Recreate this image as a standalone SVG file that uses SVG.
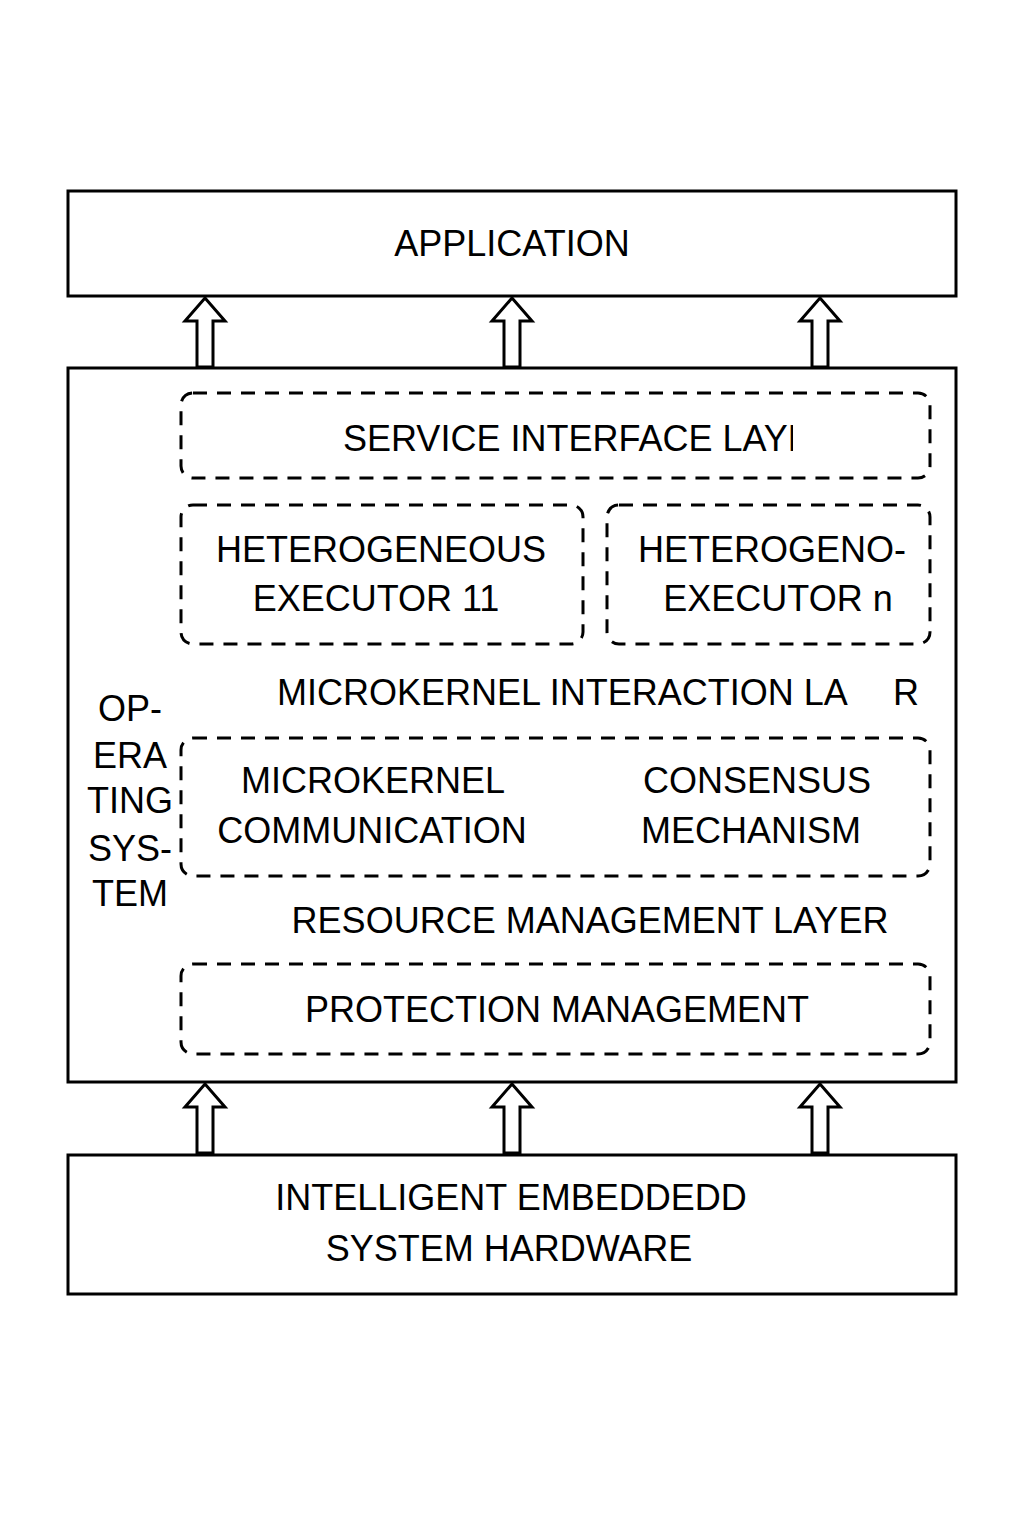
<svg xmlns="http://www.w3.org/2000/svg" width="1024" height="1536" viewBox="0 0 1024 1536">
<style>
.box{fill:#fff;stroke:#000;stroke-width:3}
.dash{fill:none;stroke:#000;stroke-width:3;stroke-dasharray:14 10}
.t{font-family:"Liberation Sans",Arial,sans-serif;font-size:36px;fill:#000}
.c{text-anchor:middle}
.arr{fill:#fff;stroke:#000;stroke-width:3;stroke-linejoin:miter}
</style>
<defs>
<clipPath id="clipSvc"><rect x="300" y="400" width="493" height="70"/></clipPath>
<path id="arrow" d="M0,0 L20,23 L8,23 L8,69 L-8,69 L-8,23 L-20,23 Z"/>
</defs>
<rect width="1024" height="1536" fill="#fff"/>
<g id="application">
<rect class="box" x="68" y="191" width="888" height="105"/>
<text class="t c" x="512" y="256">APPLICATION</text>
</g>
<g id="os">
<rect class="box" x="68" y="368" width="888" height="714"/>
<text class="t c" x="130" y="721">OP-</text>
<text class="t c" x="130" y="768">ERA</text>
<text class="t c" x="130" y="813">TING</text>
<text class="t c" x="130" y="861">SYS-</text>
<text class="t c" x="130" y="906">TEM</text>
</g>
<g id="service-interface">
<rect class="dash" x="181" y="393" width="749" height="85" rx="12"/>
<text class="t" x="343" y="451" clip-path="url(#clipSvc)">SERVICE INTERFACE LAYE</text>
</g>
<g id="executor1">
<rect class="dash" x="181" y="505" width="402" height="139" rx="12"/>
<text class="t c" x="381" y="562">HETEROGENEOUS</text>
<text class="t c" x="376" y="611">EXECUTOR 11</text>
</g>
<g id="executorN">
<rect class="dash" x="607" y="505" width="323" height="139" rx="12"/>
<text class="t c" x="772" y="562">HETEROGENO-</text>
<text class="t c" x="778" y="611">EXECUTOR n</text>
</g>
<g id="microkernel-interaction-layer">
<text class="t" x="277" y="705">MICROKERNEL INTERACTION LA<tspan x="893">R</tspan></text>
</g>
<g id="microkernel-box">
<rect class="dash" x="181" y="738" width="749" height="138" rx="12"/>
<text class="t c" x="373" y="793">MICROKERNEL</text>
<text class="t c" x="372" y="843">COMMUNICATION</text>
<text class="t c" x="757" y="793">CONSENSUS</text>
<text class="t c" x="751" y="843">MECHANISM</text>
</g>
<g id="resource-management-layer">
<text class="t c" x="590" y="933">RESOURCE MANAGEMENT LAYER</text>
</g>
<g id="protection-management">
<rect class="dash" x="181" y="964" width="749" height="90" rx="12"/>
<text class="t c" x="557" y="1022">PROTECTION MANAGEMENT</text>
</g>
<g id="hardware">
<rect class="box" x="68" y="1155" width="888" height="139"/>
<text class="t c" x="511" y="1210">INTELLIGENT EMBEDDEDD</text>
<text class="t c" x="509" y="1261">SYSTEM HARDWARE</text>
</g>
<g id="connectors">
<use href="#arrow" class="arr" x="205" y="298"/>
<use href="#arrow" class="arr" x="512" y="298"/>
<use href="#arrow" class="arr" x="820" y="298"/>
<use href="#arrow" class="arr" x="205" y="1084"/>
<use href="#arrow" class="arr" x="512" y="1084"/>
<use href="#arrow" class="arr" x="820" y="1084"/>
</g>
</svg>
